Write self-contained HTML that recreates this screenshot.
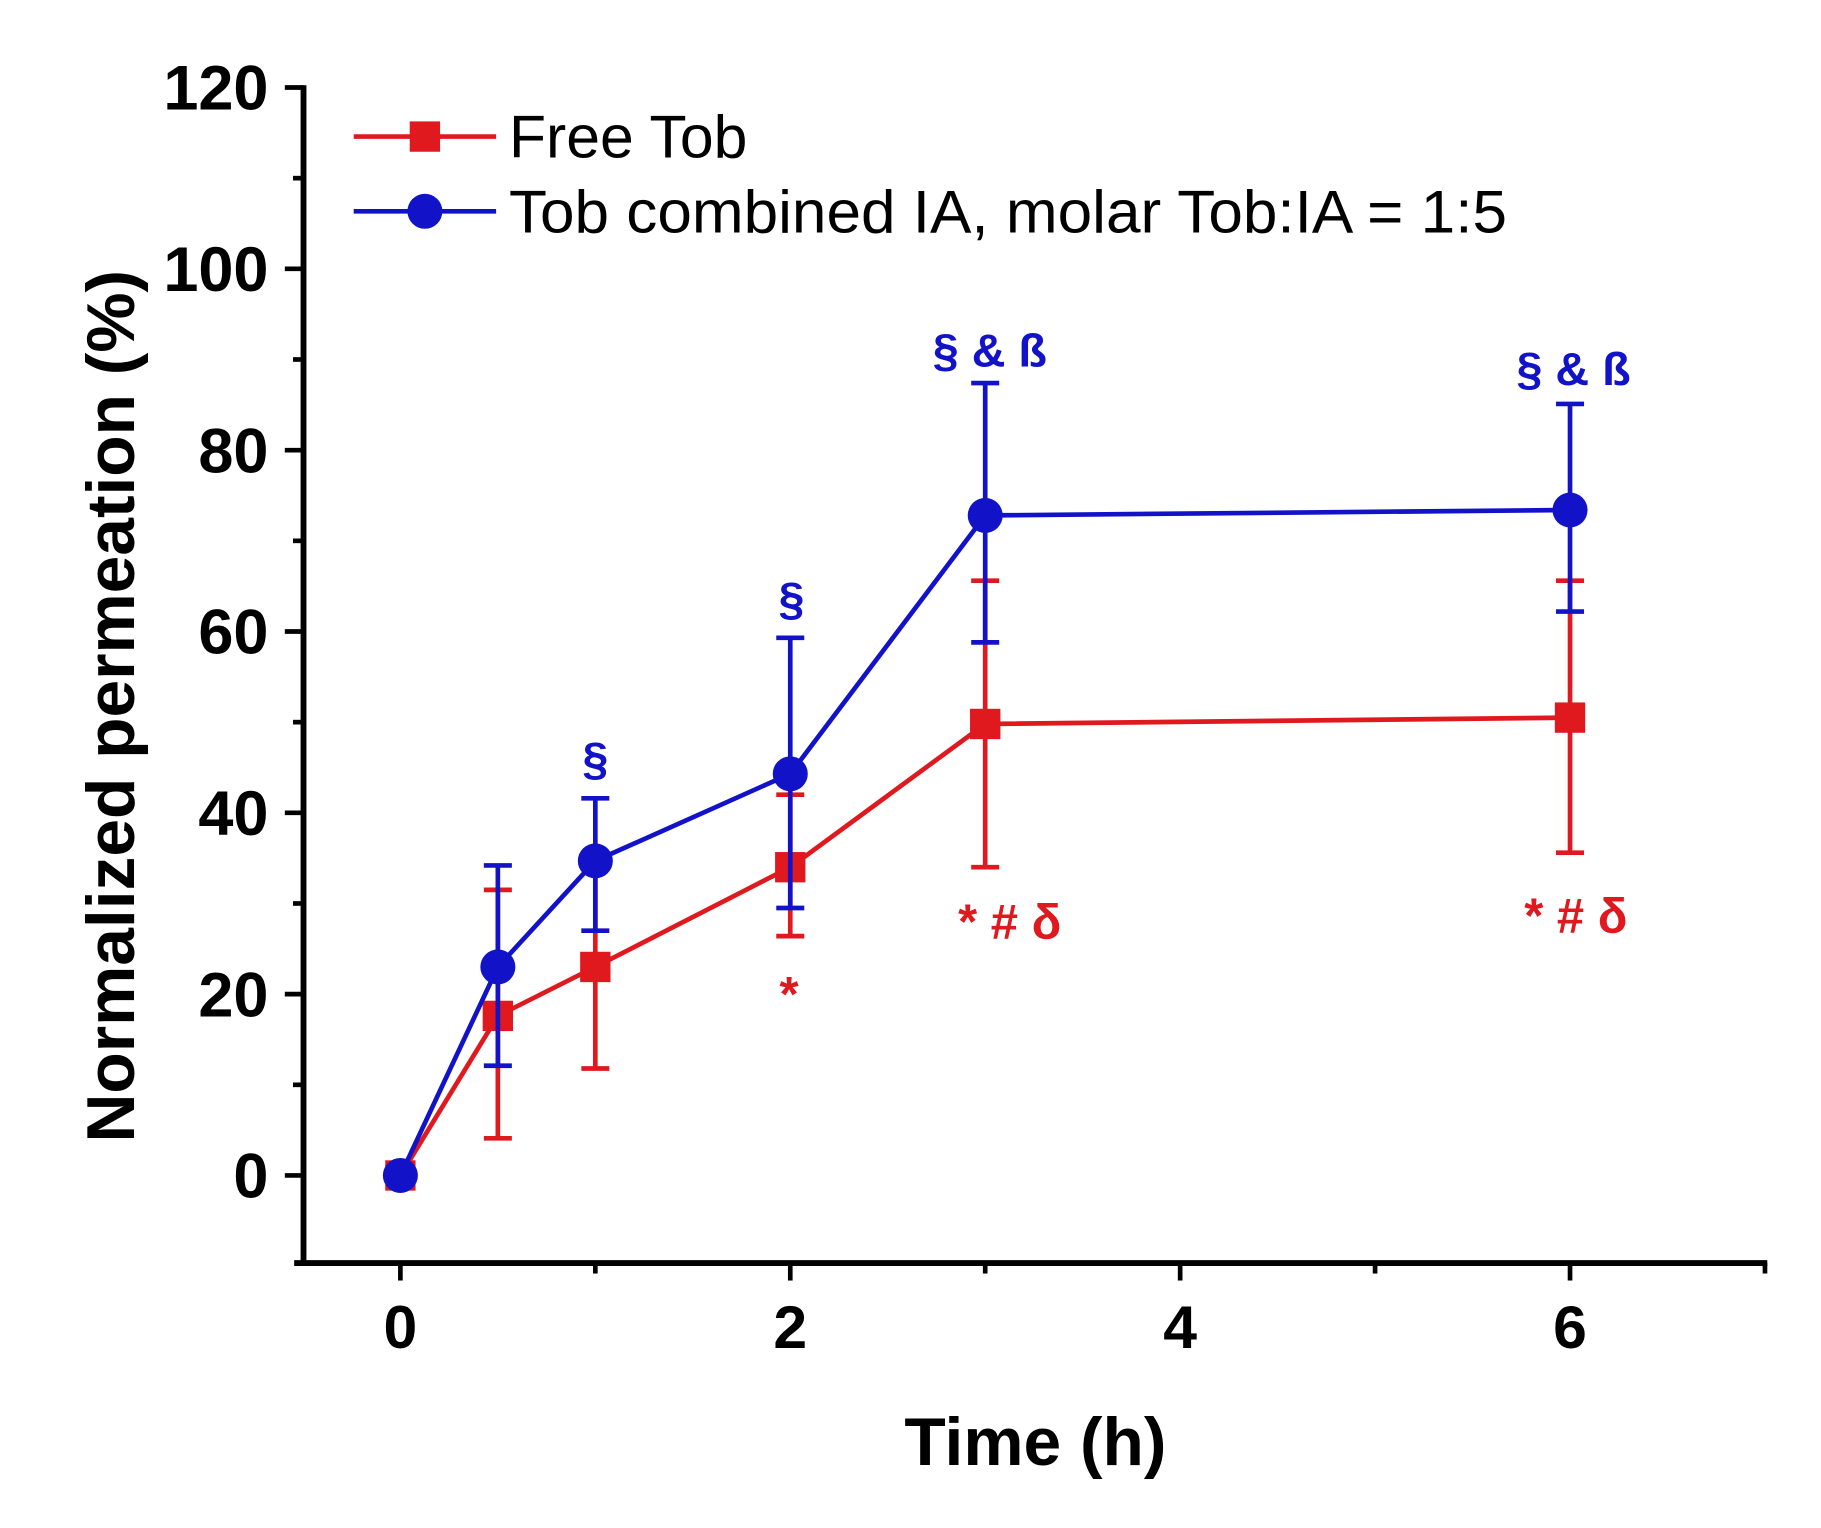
<!DOCTYPE html>
<html><head><meta charset="utf-8"><style>html,body{margin:0;padding:0;background:#fff}svg{display:block}</style></head>
<body>
<svg id="chart" width="1821" height="1528" viewBox="0 0 1560 1309" preserveAspectRatio="none" xmlns="http://www.w3.org/2000/svg" font-family="Liberation Sans, Arial, sans-serif"></svg>
<script>
const times=[0,0.5,1,2,3,6];
const redVals=[0,17.6,23,34,49.8,50.5];
const redUp=[0,31.5,35,42,65.6,65.6];
const redLo=[0,4.1,11.8,26.4,34,35.6];
const blueVals=[0,23,34.7,44.3,72.8,73.4];
const blueUp=[0,34.2,41.6,59.3,87.4,85.1];
const blueLo=[0,12.1,27,29.5,58.8,62.2];
const yTicks=[0,20,40,60,80,100,120];
const xTicks=[0,2,4,6];
const X=v=>343+v*167, Y=v=>1007-v*7.767;
const svg=document.getElementById('chart');
const NS='http://www.w3.org/2000/svg';
function mk(t,a,p){const e=document.createElementNS(NS,t);for(const k in a)e.setAttribute(k,a[k]);(p||svg).appendChild(e);return e;}
const RED='#e0191f',BLUE='#1212c8';
let ax=mk('g',{});


mk('line',{x1:260,y1:73,x2:260,y2:1083,stroke:'#000','stroke-width':5},ax);
mk('line',{x1:252,y1:1082,x2:1514,y2:1082,stroke:'#000','stroke-width':5},ax);
for(let v=-0;v<=120;v+=10){const y=Y(v);mk('line',{x1:260,y1:y,x2:v%20==0?244:251,y2:y,stroke:'#000','stroke-width':4},ax);}
yTicks.forEach(v=>{const t=mk('text',{x:230,y:Y(v)+19,'text-anchor':'end','font-size':54,'font-weight':'bold'},ax);t.textContent=v;

});
for(let v=0;v<=7;v+=1){const x=X(v);mk('line',{x1:x,y1:1082,x2:x,y2:v%2==0?1097:1091,stroke:'#000','stroke-width':4},ax);}
xTicks.forEach(v=>{const t=mk('text',{x:X(v),y:1155,'text-anchor':'middle','font-size':52,'font-weight':'bold'},ax);t.textContent=v;

});
let yt=mk('text',{x:0,y:0,'text-anchor':'middle','font-size':58,'font-weight':'bold',transform:'translate(115,605) rotate(-90)'});
yt.textContent='Normalized permeation (%)';


let xt=mk('text',{x:887,y:1255,'text-anchor':'middle','font-size':58,'font-weight':'bold'});
xt.textContent='Time (h)';


function series(vals,up,lo,col,shape,name){
 const g=mk('g',{});
 
 
 times.forEach((t,i)=>{const x=X(t);mk('line',{x1:x,y1:Y(up[i]),x2:x,y2:Y(lo[i]),stroke:col,'stroke-width':4},g);
  [up[i],lo[i]].forEach(v=>mk('line',{x1:x-12,y1:Y(v),x2:x+12,y2:Y(v),stroke:col,'stroke-width':4},g));});
 mk('polyline',{points:times.map((t,i)=>X(t)+','+Y(vals[i])).join(' '),fill:'none',stroke:col,'stroke-width':4},g);
 times.forEach((t,i)=>{let m;if(shape=='sq')m=mk('rect',{x:X(t)-13,y:Y(vals[i])-13,width:26,height:26,fill:col},g);else m=mk('circle',{cx:X(t),cy:Y(vals[i]),r:15,fill:col},g);
  
  });
}
series(redVals,redUp,redLo,RED,'sq','series-free-tob');
series(blueVals,blueUp,blueLo,BLUE,'ci','series-tob-ia');
const notes=[[510,664,'§',BLUE,40],[678,527,'§',BLUE,40],[848,314,'§ & ß',BLUE,40],[1348,330,'§ & ß',BLUE,40],[676,866,'*',RED,42],[865,804,'* # δ',RED,42],[1350,799,'* # δ',RED,42]];
notes.forEach(n=>{const t=mk('text',{x:n[0],y:n[1],'text-anchor':'middle','font-size':n[4],'font-weight':'bold',fill:n[3]});t.textContent=n[2];

});
const lg=mk('g',{});


mk('line',{x1:303,y1:117,x2:425,y2:117,stroke:RED,'stroke-width':4},lg);
mk('rect',{x:351,y:104,width:26,height:26,fill:RED},lg);
let l1=mk('text',{x:436,y:135,'font-size':52},lg);l1.textContent='Free Tob';


mk('line',{x1:303,y1:181,x2:425,y2:181,stroke:BLUE,'stroke-width':4},lg);
mk('circle',{cx:364,cy:181,r:15,fill:BLUE},lg);
let l2=mk('text',{x:436,y:199,'font-size':52,textLength:855,lengthAdjust:'spacingAndGlyphs'},lg);l2.textContent='Tob combined IA, molar Tob:IA = 1:5';


</script>
</body></html>
